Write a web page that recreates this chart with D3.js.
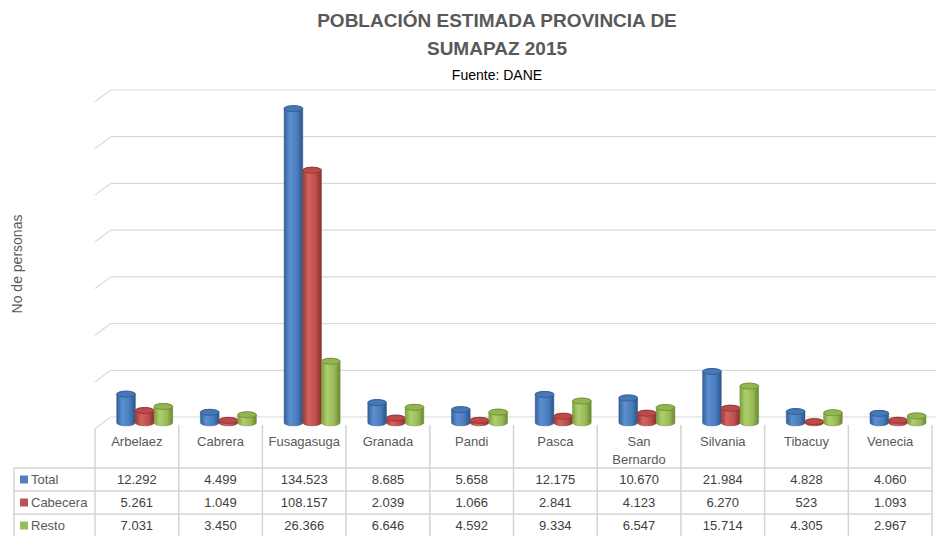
<!DOCTYPE html>
<html>
<head>
<meta charset="utf-8">
<script src="https://cdn.jsdelivr.net/npm/d3@7"></script>
<style>
  body { margin: 0; background: #fff; }
  svg { display: block; font-family: "Liberation Sans", Arial, sans-serif; }
</style>
</head>
<body>
<div id="wrapper"></div>
<script>
// Data
const categories = ["Arbelaez", "Cabrera", "Fusagasuga", "Granada", "Pandi", "Pasca", "San Bernardo", "Silvania", "Tibacuy", "Venecia"];
const seriesNames = ["Total", "Cabecera", "Resto"];
const totalValues = [12292, 4499, 134523, 8685, 5658, 12175, 10670, 21984, 4828, 4060];
const cabeceraValues = [5261, 1049, 108157, 2039, 1066, 2841, 4123, 6270, 523, 1093];
const restoValues = [7031, 3450, 26366, 6646, 4592, 9334, 6547, 15714, 4305, 2967];
const yTicks = [0, 20000, 40000, 60000, 80000, 100000, 120000, 140000];

function drawChart() {
  const dimensions = { width: 940, height: 536 };

  const seriesValues = [totalValues, cabeceraValues, restoValues];
  const colors = ["#4F81BD", "#C0504D", "#9BBB59"];
  const gradStops = [
    ["#35609a", "#5b8fd0", "#4a7cbc", "#2c5487"],
    ["#9c3b38", "#d3635f", "#be4f4c", "#86302d"],
    ["#7f9f40", "#add06c", "#98b956", "#6a8732"],
  ];
  const topFill = ["#4677b6", "#bd4a47", "#93b551"];
  const topStroke = ["#2f5a91", "#8f3431", "#6f8c36"];

  // 3D depth offsets
  const depthX = 15.7;
  const depthY = -11.7;

  const svg = d3
    .select("#wrapper")
    .append("svg")
    .attr("width", dimensions.width)
    .attr("height", dimensions.height);

  const defs = svg.append("defs");
  gradStops.forEach((stops, i) => {
    const g = defs
      .append("linearGradient")
      .attr("id", "grad" + i)
      .attr("x1", "0%").attr("x2", "100%")
      .attr("y1", "0%").attr("y2", "0%");
    [0, 0.3, 0.7, 1].forEach((o, j) =>
      g.append("stop").attr("offset", o).attr("stop-color", stops[j])
    );
  });

  // Scales
  const xScale = d3.scaleBand().domain(categories).range([95, 932]);
  const seriesScale = d3.scaleBand().domain(seriesNames).range([-28, 28]);
  const yScale = d3.scaleLinear().domain([0, 140000]).range([417, 90]);

  // Titles
  const titleColor = "#595959";
  svg.append("text")
    .attr("x", 497).attr("y", 27)
    .attr("text-anchor", "middle")
    .style("font-size", "19px").style("font-weight", "bold")
    .attr("fill", titleColor)
    .text("POBLACIÓN ESTIMADA PROVINCIA DE");
  svg.append("text")
    .attr("x", 497).attr("y", 55)
    .attr("text-anchor", "middle")
    .style("font-size", "19px").style("font-weight", "bold")
    .attr("fill", titleColor)
    .text("SUMAPAZ 2015");
  svg.append("text")
    .attr("x", 497).attr("y", 80)
    .attr("text-anchor", "middle")
    .style("font-size", "14px")
    .attr("fill", "#000")
    .text("Fuente: DANE");

  // Y axis title
  svg.append("text")
    .attr("transform", "translate(22, 264) rotate(-90)")
    .attr("text-anchor", "middle")
    .style("font-size", "14px")
    .attr("fill", titleColor)
    .text("No de personas");

  // Back wall gridlines with left side diagonals
  const grid = svg.append("g").attr("class", "grid");
  const x0 = xScale.range()[0];
  grid.selectAll(".hline")
    .data(yTicks)
    .join("line")
    .attr("x1", x0 + depthX).attr("x2", 936)
    .attr("y1", (d) => yScale(d)).attr("y2", (d) => yScale(d))
    .attr("stroke", "#D9D9D9").attr("stroke-width", 1.2);
  grid.selectAll(".dline")
    .data(yTicks)
    .join("line")
    .attr("x1", x0).attr("x2", x0 + depthX)
    .attr("y1", (d) => yScale(d) - depthY).attr("y2", (d) => yScale(d))
    .attr("stroke", "#D9D9D9").attr("stroke-width", 1.2);

  // Cylinders
  const ry = 3;
  const barW = seriesScale.bandwidth();
  const baseY = yScale(0) - depthY / 2;
  const bars = svg.append("g").attr("class", "bars");

  const barData = [];
  categories.forEach((c, ci) => {
    seriesNames.forEach((s, si) => {
      barData.push({ cat: c, series: s, si: si, value: seriesValues[si][ci] });
    });
  });

  const barX = (d) =>
    xScale(d.cat) + xScale.bandwidth() / 2 + depthX / 2 + seriesScale(d.series);
  const barTop = (d) => yScale(d.value) - depthY / 2;

  const cylPath = (d) => {
    const xl = barX(d);
    const xr = xl + barW;
    const rx = barW / 2;
    const yt = barTop(d);
    return `M${xl},${yt} L${xl},${baseY} A${rx},${ry} 0 0 0 ${xr},${baseY} L${xr},${yt} A${rx},${ry} 0 0 0 ${xl},${yt} Z`;
  };

  const barGroups = bars.selectAll(".barGroup")
    .data(barData)
    .join("g")
    .attr("class", "barGroup");

  barGroups.append("path")
    .attr("d", cylPath)
    .attr("fill", (d) => `url(#grad${d.si})`)
    .attr("stroke", (d) => topStroke[d.si])
    .attr("stroke-width", 0.5);

  barGroups.append("ellipse")
    .attr("cx", (d) => barX(d) + barW / 2)
    .attr("cy", barTop)
    .attr("rx", barW / 2)
    .attr("ry", ry)
    .attr("fill", (d) => topFill[d.si])
    .attr("stroke", (d) => topStroke[d.si])
    .attr("stroke-width", 0.8);

  // Data table
  const table = svg.append("g").attr("class", "table");
  const lineColor = "#D4D4D4";
  const rowTops = [468, 491, 514, 537];
  const legendLeft = 14;
  const xEnd = xScale.range()[1];

  // floor left edge line down into the table
  table.append("line")
    .attr("x1", x0).attr("x2", x0)
    .attr("y1", yScale(0) - depthY).attr("y2", 537)
    .attr("stroke", lineColor).attr("stroke-width", 1.5);

  table.selectAll(".vline")
    .data(categories)
    .join("line")
    .attr("x1", (d) => xScale(d) + xScale.bandwidth())
    .attr("x2", (d) => xScale(d) + xScale.bandwidth())
    .attr("y1", 425).attr("y2", 537)
    .attr("stroke", lineColor).attr("stroke-width", 1.5);

  table.append("line")
    .attr("x1", legendLeft).attr("x2", legendLeft)
    .attr("y1", rowTops[0]).attr("y2", 537)
    .attr("stroke", lineColor).attr("stroke-width", 1.5);

  table.selectAll(".rline")
    .data(rowTops)
    .join("line")
    .attr("x1", legendLeft).attr("x2", xEnd)
    .attr("y1", (d) => d).attr("y2", (d) => d)
    .attr("stroke", lineColor).attr("stroke-width", 1.5);

  // Category labels (wrap names with a space)
  table.selectAll(".catLabel")
    .data(categories)
    .join("text")
    .attr("class", "catLabel")
    .attr("text-anchor", "middle")
    .style("font-size", "13px")
    .attr("fill", titleColor)
    .each(function (d) {
      const parts = d.split(" ");
      parts.forEach((p, i) => {
        d3.select(this).append("tspan")
          .attr("x", xScale(d) + xScale.bandwidth() / 2)
          .attr("y", 446 + i * 18)
          .text(p);
      });
    });

  const locale = d3.formatLocale({ decimal: ",", thousands: ".", grouping: [3], currency: ["$", ""] });
  const formatter = locale.format(",d");

  seriesNames.forEach((s, si) => {
    const rowMid = (rowTops[si] + rowTops[si + 1]) / 2;
    table.append("rect")
      .attr("x", 20).attr("y", rowMid - 4)
      .attr("width", 8).attr("height", 8)
      .attr("fill", colors[si]);
    table.append("text")
      .attr("x", 31).attr("y", rowMid + 4.5)
      .style("font-size", "13px")
      .attr("fill", titleColor)
      .text(s);
    table.selectAll(".val" + si)
      .data(categories)
      .join("text")
      .attr("x", (d) => xScale(d) + xScale.bandwidth() / 2)
      .attr("y", rowMid + 4.5)
      .attr("text-anchor", "middle")
      .style("font-size", "13px")
      .attr("fill", "#404040")
      .text((d, ci) => formatter(seriesValues[si][ci]));
  });
}

drawChart();
</script>
</body>
</html>
